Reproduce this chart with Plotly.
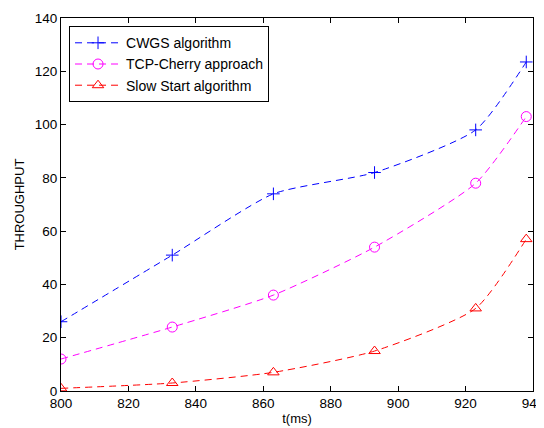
import plotly.graph_objects as go

t_ms = [800, 833, 863, 893, 923, 938]
cwgs = [26, 51, 74, 82, 98, 123.5]
tcp_cherry = [12, 24, 36, 54, 78, 103]
slow_start = [1, 3, 7, 15, 31, 57]

FONT = "Liberation Sans, Arial"

fig = go.Figure()
series = [
    ("CWGS algorithm", cwgs, "#0000ff", "cross-thin", 9),
    ("TCP-Cherry approach", tcp_cherry, "#ff00ff", "circle-open", 10),
    ("Slow Start algorithm", slow_start, "#ff0000", "triangle-up-open", 10),
]
for name, ys, col, sym, sz in series:
    fig.add_trace(go.Scatter(
        x=t_ms, y=ys, name=name, mode="lines+markers",
        line=dict(color=col, width=1, dash="7px,5px", shape="spline", smoothing=0.6),
        marker=dict(symbol=sym, size=sz, color=col, line=dict(color=col, width=1)),
    ))

axis_common = dict(
    showline=True, linecolor="black", linewidth=1, mirror="ticks",
    ticks="inside", ticklen=5, tickcolor="black", showgrid=False, zeroline=False,
    automargin=False, ticklabeloverflow="allow",
    tickfont=dict(family=FONT, size=13.5, color="black"),
)
fig.update_xaxes(range=[800, 940], dtick=20, tick0=800,
                 title=dict(text="t(ms)", font=dict(family=FONT, size=13, color="black"), standoff=3),
                 **axis_common)
fig.update_yaxes(range=[0, 140], dtick=20, tick0=0,
                 title=dict(text="THROUGHPUT", font=dict(family=FONT, size=13, color="black"), standoff=7),
                 **axis_common)
# the page body adds an 8px offset, so the figure is 8px smaller than the window
fig.update_layout(
    width=536, height=420,
    margin=dict(l=53, r=11, t=10, b=37),
    plot_bgcolor="white", paper_bgcolor="white",
    legend=dict(x=0.017, y=0.978, xanchor="left", yanchor="top",
                bordercolor="black", borderwidth=1, bgcolor="white",
                font=dict(family=FONT, size=14, color="black"),
                tracegroupgap=0, itemwidth=46),
    font=dict(family=FONT, size=13, color="black"),
)
fig.write_html("out.html")
